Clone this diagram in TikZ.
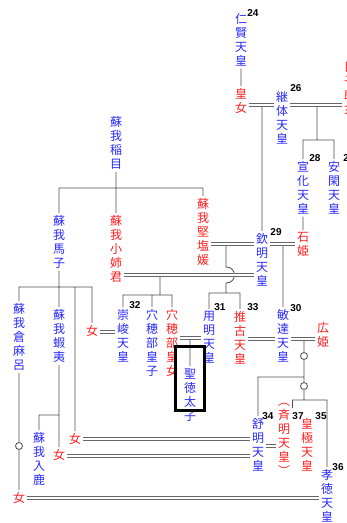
\documentclass[tikz,border=0pt]{standalone}
\usepackage{fontspec}
\newfontfamily\jp{Noto Sans CJK JP}
\newfontfamily\nm{Liberation Sans}
\definecolor{kblue}{RGB}{40,40,255}
\definecolor{kred}{RGB}{255,30,30}

\begin{document}
\begin{tikzpicture}[
    x = 1pt, y = -1pt,
    line width = 0.8pt, color = black!70,
    man/.style = {anchor = north, align = center, inner sep = 2pt, text = kblue,
                  font = \jp\fontsize{12}{14}\selectfont},
    hime/.style = {man, text = kred},
    ban/.style = {inner sep = 0pt, text = black, font = \nm\bfseries\fontsize{10}{10}\selectfont},
    kon/.style = {draw = black!60, double = white, double distance = 1.6pt},
    maru/.style = {circle, draw, fill = white, inner sep = 0pt, minimum size = 7pt}]

\useasboundingbox (0,0) rectangle (346,523);

\path (241,11) node[man](jinken) {仁\\賢\\天\\皇}
      (241,86) node[hime](himeko) {皇\\女}
      (282,89) node[man](keitai) {継\\体\\天\\皇}
      (350,60) node[hime](meko) {目\\子\\郎\\女}
      (303,159) node[man](senka) {宣\\化\\天\\皇}
      (334,159) node[man](ankan) {安\\閑\\天\\皇}
      (303,230) node[hime](ishi) {石\\姫}
      (116,114) node[man](inagome) {蘇\\我\\稲\\目}
      (59,213) node[man](umako) {蘇\\我\\馬\\子}
      (116,213) node[hime](onee) {蘇\\我\\小\\姉\\君}
      (203,196) node[hime](kitashi) {蘇\\我\\堅\\塩\\媛}
      (262,231) node[man](kinmei) {欽\\明\\天\\皇}
      (123,307) node[man](sushun) {崇\\峻\\天\\皇}
      (152,307) node[man](anahobe) {穴\\穂\\部\\皇\\子}
      (172,307) node[hime](hashihito) {穴\\穂\\部\\皇\\女}
      (209,309) node[man](yomei) {用\\明\\天\\皇}
      (240,309) node[hime](suiko) {推\\古\\天\\皇}
      (283,307) node[man](bidatsu) {敏\\達\\天\\皇}
      (323,320) node[hime](hiro) {広\\姫}
      (19,301) node[man](kuramaro) {蘇\\我\\倉\\麻\\呂}
      (59,307) node[man](emishi) {蘇\\我\\蝦\\夷}
      (92,323) node[hime](musume1) {女}
      (190,366) node[man](shotoku) {聖\\徳\\太\\子}
      (39,430) node[man](iruka) {蘇\\我\\入\\鹿}
      (75,431) node[hime](musume2) {女}
      (59,447) node[hime](musume3) {女}
      (19,490) node[hime](musume4) {女}
      (258,416) node[man](jomei) {舒\\明\\天\\皇}
      (284,401) node[hime](saimei) {︵\\斉\\明\\天\\皇\\︶}
      (307,416) node[hime](kogyoku) {皇\\極\\天\\皇}
      (327,467) node[man](kotoku) {孝\\徳\\天\\皇}
      (304,356) node[maru](maru1) {}
      (304,386) node[maru](maru2) {}
      (19,446) node[maru](maru3) {}
      ;
\path (253,13) node[ban](n24) {24}
      (296,88) node[ban](n26) {26}
      (315,158) node[ban](n28) {28}
      (349,158) node[ban](n27) {27}
      (276,232) node[ban](n29) {29}
      (296,308) node[ban](n30) {30}
      (220,307) node[ban](n31) {31}
      (135,305) node[ban](n32) {32}
      (253,307) node[ban](n33) {33}
      (268,416) node[ban](n34) {34}
      (321,416) node[ban](n35) {35}
      (338,467) node[ban](n36) {36}
      (298,416) node[ban](n37) {37}
      ;
\path (317,107) coordinate(kb) (226,246) coordinate(kk) (160,277) coordinate(ko)
      (190,340) coordinate(yh) (304,341) coordinate(bh);

\draw (jinken) -- (himeko)
      (kinmei.north |- 0,107) -- (kinmei.north)
      (kb) |- (senka.north |- 0,140) -- (senka.north)
      (kb |- 0,140) -| (ankan.north)
      (senka) -- (ishi)
      (inagome) -- (onee)
      (umako.north) |- (kitashi.north |- 0,188) -- (kitashi.north)
      (bidatsu.north |- 0,246) -- (bidatsu.north)
      (kk) -- ++(0,21) to[out=0, in=0, looseness=1.8] ++(0,16) -- (kk |- 0,293) -| (yomei.north)
      (kk |- 0,293) -| (suiko.north)
      (ko) |- (sushun.north |- 0,295) -- (sushun.north)
      (ko |- 0,295) -| (hashihito.north)
      (anahobe.north |- 0,295) -- (anahobe.north)
      (yh) -- (shotoku.north)
      (bh) -- (maru1) -- (bh |- 0,377) -| (jomei.north)
      (bh |- 0,377) -- (maru2) -- (bh |- 0,400)
      (saimei.north east |- 0,408) |- (kotoku.north |- 0,400) -- (kotoku.north)
      (umako) -- (emishi)
      (kuramaro.north) |- (musume1.north |- 0,287) -- (musume1.north)
      (musume2.north |- 0,287) -- (musume2.north)
      (emishi) -- (musume3)
      (emishi.south |- 0,415) -| (iruka.north)
      (kuramaro) -- (maru3) -- (musume4)
      ;
\draw[kon] (himeko.east |- 0,105) -- (keitai.west |- 0,105);
\draw[kon] (keitai.east |- 0,105) -- (meko.west |- 0,105);
\draw[kon] (kitashi.east |- 0,244) -- (kinmei.west |- 0,244);
\draw[kon] (kinmei.east |- 0,244) -- (ishi.west |- 0,244);
\draw[kon] (onee.east |- 0,275) -- (kinmei.west |- 0,275);
\draw[kon] (musume1.east |- 0,332) -- (sushun.west |- 0,332);
\draw[kon] (hashihito.east |- 0,338) -- (yomei.west |- 0,338);
\draw[kon] (suiko.east |- 0,339) -- (bidatsu.west |- 0,339);
\draw[kon] (bidatsu.east |- 0,339) -- (hiro.west |- 0,339);
\draw[kon] (musume2.east |- 0,439) -- (jomei.west |- 0,439);
\draw[kon] (musume3.east |- 0,456) -- (jomei.west |- 0,456);
\draw[kon] (jomei.east |- 0,446) -- (saimei.west |- 0,446);
\draw[kon] (musume4.east |- 0,498) -- (kotoku.west |- 0,498);
\draw[line width = 3pt, black] ([shift={(-14.5,-19.5)}]shotoku.north) rectangle ([shift={(14.5,44.5)}]shotoku.north);
\end{tikzpicture}
\end{document}
